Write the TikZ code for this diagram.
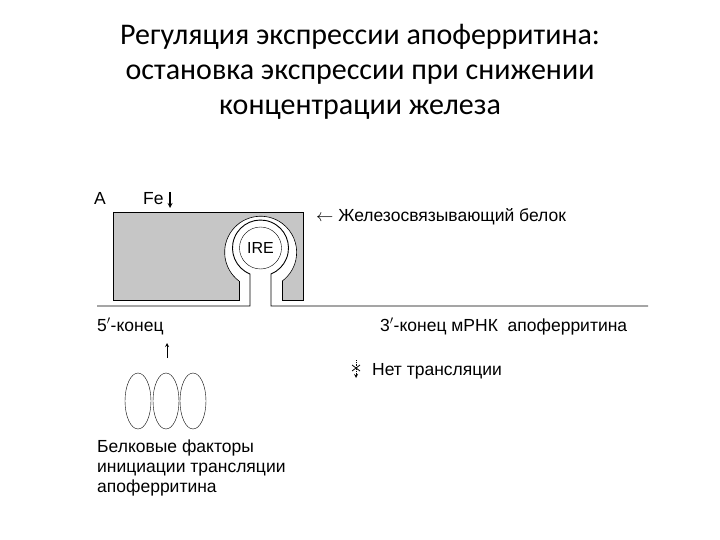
\documentclass[tikz,border=0pt]{standalone}
\usepackage{fontspec}
\setmainfont{Carlito}
\newfontfamily\lab{Liberation Sans}
\tikzset{lbl/.style={font=\lab\fontsize{17.5}{20}\selectfont, inner sep=0pt, anchor=base west},
 rna/.style={line width=0.9pt}}
\begin{document}
\begin{tikzpicture}[x=1pt,y=-1pt]
\useasboundingbox (0,0) rectangle (720,540);
\node (t) at (360,72) [align=center, font=\fontsize{30}{35}\selectfont] {Регуляция экспрессии апоферритина:\\остановка экспрессии при снижении\\концентрации железа};
% gray box with keyhole
\fill[gray!45] (113,212) rectangle (303,300);
\fill[white] (239,302) -- (239,281) arc[start angle=127, end angle=413, radius=36] -- (282.3,302) -- cycle;
\draw[line width=0.6pt] (113,212) -- (303,212) -- (303,300) -- (282.3,300) -- (282.3,281);
\draw[line width=0.6pt] (113,212) -- (113,300) -- (239,300) -- (239,281);
\draw[line width=0.6pt] (239,281) arc[start angle=127, end angle=413, radius=36];
% RNA
\coordinate (l) at (97,306); \coordinate (r) at (648,306);
\draw[rna] (l) -- (250,306) -- (250,274) arc[start angle=112, end angle=428, radius=28] -- (271,306) -- (r);
\node[draw, circle, minimum size=42pt, inner sep=0pt, font=\lab\fontsize{16}{17}\selectfont] (ire) at (260.5,248) {IRE};
\node[lbl] (a) at (94,205) {A};
\node[lbl] (fe) at (143,205) {Fe};
\draw[-stealth, line width=1.2pt] (170,192) -- (170,208);
\node[lbl] (bel) at (316,222) {$\leftarrow$ Железосвязывающий белок};
\node[lbl] (p5) at (97,331) {5$'$-конец};
\node[lbl] (p3) at (380,331) {3$'$-конец мРНК \ апоферритина};
\node[lbl] (net) at (372,375) {Нет трансляции};
\draw[-stealth, densely dotted, line width=0.8pt] (356,360) -- (356,378);
\draw[line width=0.8pt] (352,365) -- (360,371) (352,371) -- (360,365);
\draw[-stealth, line width=0.8pt] (167,358) -- (167,343);
\foreach \x/\n in {138/e1,166/e2,193/e3} \draw (\x,401) ellipse[x radius=13, y radius=28];
\node[lbl, align=left, anchor=north west] (bf) at (97,440) {Белковые факторы\\инициации трансляции\\апоферритина};
\end{tikzpicture}
\end{document}
